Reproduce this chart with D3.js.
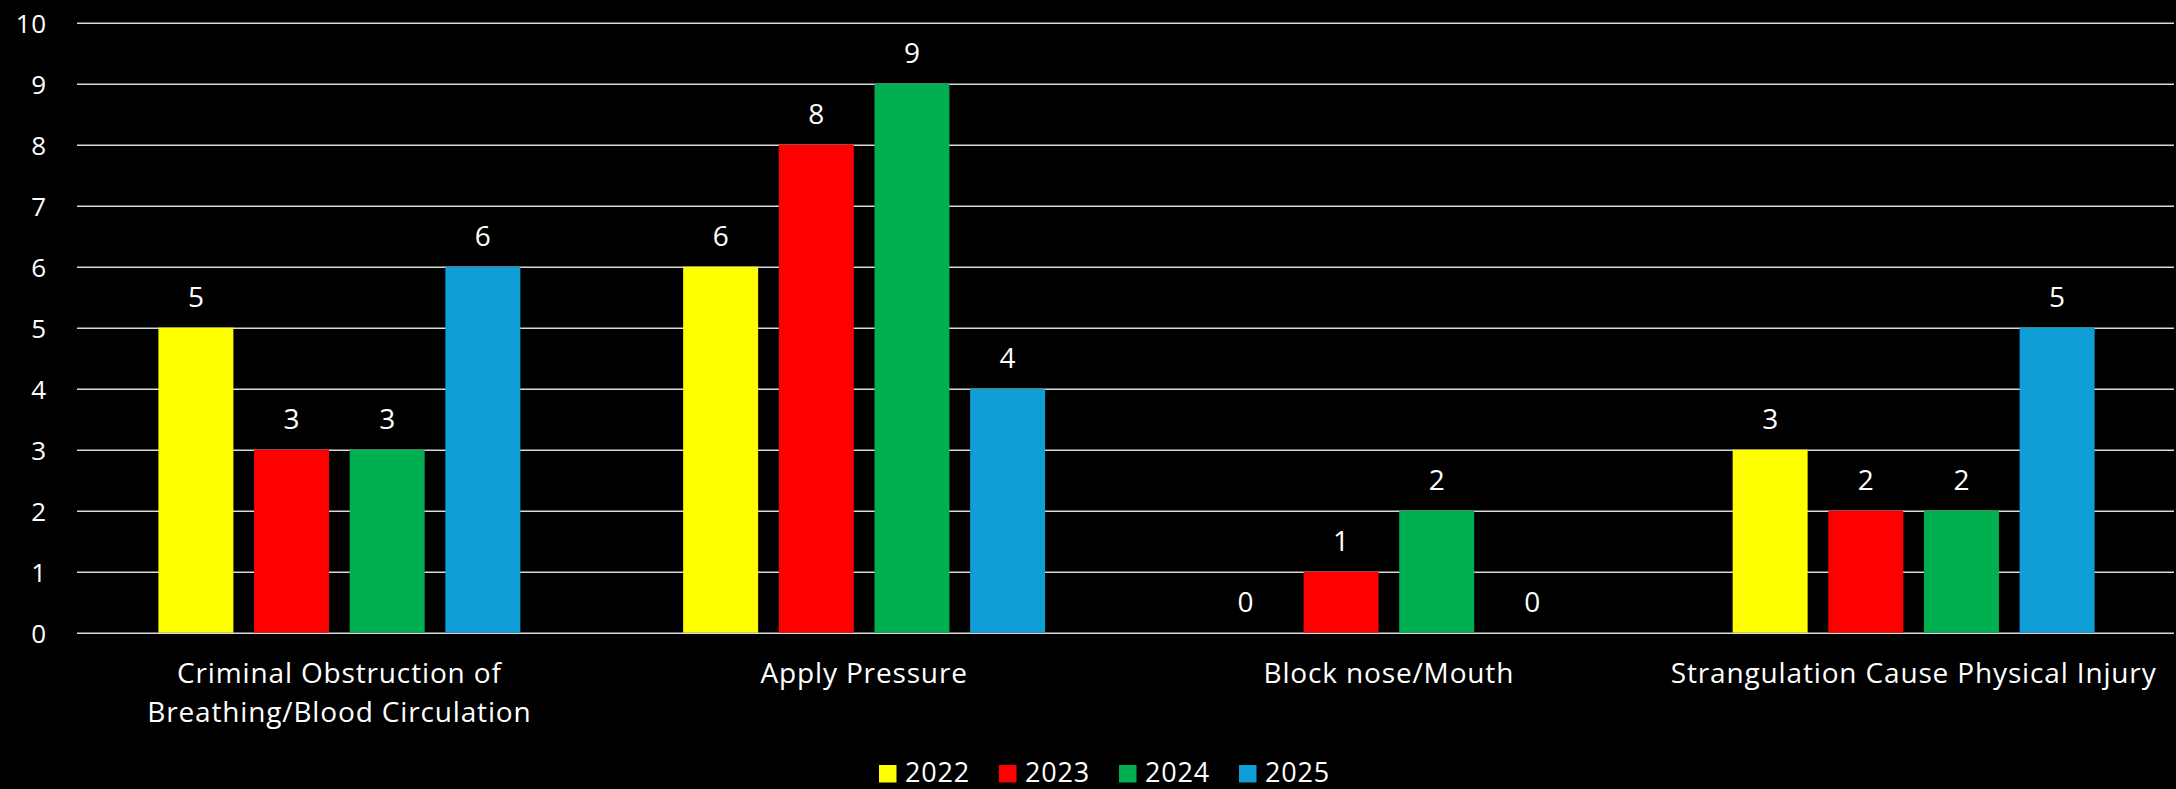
<!DOCTYPE html>
<html><head><meta charset="utf-8">
<script src="https://cdn.jsdelivr.net/npm/d3@7"></script>
<style>html,body{margin:0;padding:0;background:#000;}svg{display:block;}</style>
</head><body>
<svg id="c" width="2176" height="789"></svg>
<script>
const categories = [
  ["Criminal Obstruction of", "Breathing/Blood Circulation"],
  ["Apply Pressure"],
  ["Block nose/Mouth"],
  ["Strangulation Cause Physical Injury"]
];
const years = ["2022", "2023", "2024", "2025"];
const v2022 = [5, 6, 0, 3];
const v2023 = [3, 8, 1, 2];
const v2024 = [3, 9, 2, 2];
const v2025 = [6, 4, 0, 5];
const yTicks = [0,1,2,3,4,5,6,7,8,9,10];
const colors = ["#FFFF00", "#FF0000", "#00B050", "#0F9ED5"];

const series = [v2022, v2023, v2024, v2025];
const font = "'Open Sans', Roboto, sans-serif";
const svg = d3.select("#c");
const W = 2176, H = 789;
svg.append("rect").attr("width", W).attr("height", H).attr("fill", "#000");

const catIdx = categories.map((d,i)=>i);
const x0 = d3.scaleBand().domain(catIdx).range([77, 2176]).padding(0);
const x1 = d3.scaleBand().domain(years).range([0, x0.bandwidth()]).paddingInner(0.216).paddingOuter(0.851);
const y = d3.scaleLinear().domain([0, 10]).range([632.7, 22.7]);

// gridlines
const yAxis = d3.axisLeft(y).tickValues(yTicks).tickSize(-(2174 - 77)).tickPadding(30).tickFormat(d3.format("d"));
const ga = svg.append("g").attr("transform", "translate(77,0)").call(yAxis);
ga.select(".domain").remove();
ga.selectAll(".tick line").attr("stroke", "#d9d9d9").attr("stroke-width", 1.5);
ga.selectAll(".tick text").attr("fill", "#fff").attr("font-family", font).attr("font-size", 26)
  .attr("letter-spacing", 0.8).attr("dy", "0.36em");

// bars
const groups = svg.append("g").selectAll("g").data(catIdx).join("g")
  .attr("transform", i => `translate(${x0(i)},0)`);
groups.selectAll("rect").data(i => years.map((yr, s) => ({yr, s, v: series[s][i]}))).join("rect")
  .attr("x", d => x1(d.yr)).attr("width", x1.bandwidth())
  .attr("y", d => y(d.v)).attr("height", d => y(0) - y(d.v))
  .attr("fill", d => colors[d.s]);
groups.selectAll("text.lbl").data(i => years.map((yr, s) => ({yr, s, v: series[s][i]}))).join("text")
  .attr("class", "lbl")
  .attr("x", d => x1(d.yr) + x1.bandwidth()/2).attr("y", d => y(d.v) - 21)
  .attr("text-anchor", "middle").attr("fill", "#fff").attr("font-family", font).attr("font-size", 28)
  .text(d => d.v);

// category labels
const cl = svg.append("g").selectAll("text").data(catIdx).join("text")
  .attr("x", i => x0(i) + x0.bandwidth()/2).attr("y", 683)
  .attr("text-anchor", "middle").attr("fill", "#fff").attr("font-family", font).attr("font-size", 28)
  .attr("letter-spacing", 0.85);
cl.selectAll("tspan").data(i => categories[i]).join("tspan")
  .attr("x", function(){ return this.parentNode.getAttribute("x"); })
  .attr("dy", (d, k) => k === 0 ? 0 : 39).text(d => d);

// legend
const legX = [879, 999, 1119, 1239];
const lg = svg.append("g").selectAll("g").data(years).join("g")
  .attr("transform", (d, i) => `translate(${legX[i]},765)`);
lg.append("rect").attr("width", 17.5).attr("height", 17.5).attr("fill", (d, i) => colors[i]);
lg.append("text").attr("x", 26).attr("y", 17).attr("fill", "#fff").attr("font-family", font).attr("font-size", 27)
  .attr("letter-spacing", 0.8).text(d => d);
</script>
</body></html>
